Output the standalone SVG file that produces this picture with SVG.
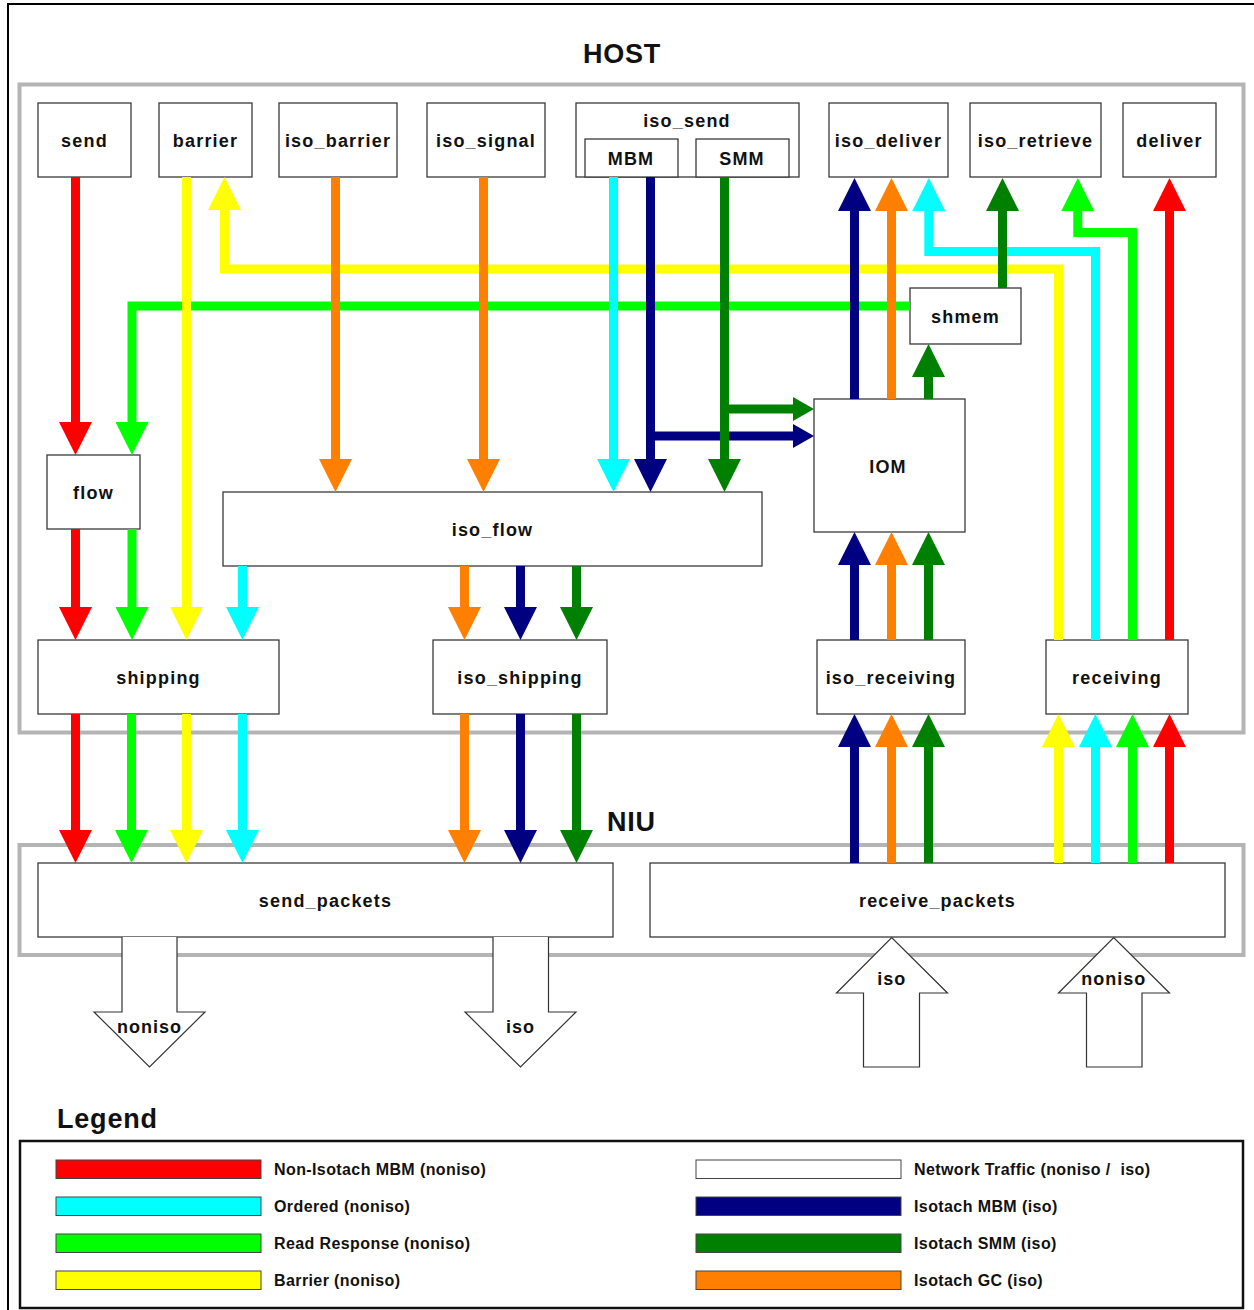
<svg xmlns="http://www.w3.org/2000/svg" width="1254" height="1310" viewBox="0 0 1254 1310">
<style>
  text{font-family:"Liberation Sans",Arial,Helvetica,sans-serif;font-weight:bold;fill:#111}
  .title{font-size:27px;letter-spacing:0.8px}
  .lbl{font-size:18px;letter-spacing:1.2px;text-anchor:middle}
  .net{font-size:18px;letter-spacing:1px;text-anchor:middle}
  .leg{font-size:16px;letter-spacing:0.4px}
  .box{fill:#fff;stroke:#3a3a3a;stroke-width:1.3}
  .frame{fill:none;stroke:#b4b4b4;stroke-width:4}
  .netarrow{fill:#fff;stroke:#333;stroke-width:1.2}
  .c{fill:none;stroke-width:9;stroke-linecap:butt;stroke-linejoin:miter}
  .red{stroke:#ff0000}.cyan{stroke:#00ffff}.green{stroke:#00ff00}.yellow{stroke:#ffff00}
  .orange{stroke:#ff8000}.navy{stroke:#000080}.dkgreen{stroke:#008000}
  .sw{stroke:#444;stroke-width:1}
</style>
<defs>
  <marker id="a-red" markerUnits="userSpaceOnUse" markerWidth="33" markerHeight="33" viewBox="0 0 33 33" refX="0" refY="16.5" orient="auto"><path d="M0,0 L33,16.5 L0,33 Z" fill="#ff0000"/></marker>
  <marker id="a-cyan" markerUnits="userSpaceOnUse" markerWidth="33" markerHeight="33" viewBox="0 0 33 33" refX="0" refY="16.5" orient="auto"><path d="M0,0 L33,16.5 L0,33 Z" fill="#00ffff"/></marker>
  <marker id="a-green" markerUnits="userSpaceOnUse" markerWidth="33" markerHeight="33" viewBox="0 0 33 33" refX="0" refY="16.5" orient="auto"><path d="M0,0 L33,16.5 L0,33 Z" fill="#00ff00"/></marker>
  <marker id="a-yellow" markerUnits="userSpaceOnUse" markerWidth="33" markerHeight="33" viewBox="0 0 33 33" refX="0" refY="16.5" orient="auto"><path d="M0,0 L33,16.5 L0,33 Z" fill="#ffff00"/></marker>
  <marker id="a-orange" markerUnits="userSpaceOnUse" markerWidth="33" markerHeight="33" viewBox="0 0 33 33" refX="0" refY="16.5" orient="auto"><path d="M0,0 L33,16.5 L0,33 Z" fill="#ff8000"/></marker>
  <marker id="a-navy" markerUnits="userSpaceOnUse" markerWidth="33" markerHeight="33" viewBox="0 0 33 33" refX="0" refY="16.5" orient="auto"><path d="M0,0 L33,16.5 L0,33 Z" fill="#000080"/></marker>
  <marker id="a-dkgreen" markerUnits="userSpaceOnUse" markerWidth="33" markerHeight="33" viewBox="0 0 33 33" refX="0" refY="16.5" orient="auto"><path d="M0,0 L33,16.5 L0,33 Z" fill="#008000"/></marker>
  <marker id="s-navy" markerUnits="userSpaceOnUse" markerWidth="21" markerHeight="24" viewBox="0 0 21 24" refX="0" refY="12" orient="auto"><path d="M0,0 L21,12 L0,24 Z" fill="#000080"/></marker>
  <marker id="s-dkgreen" markerUnits="userSpaceOnUse" markerWidth="21" markerHeight="24" viewBox="0 0 21 24" refX="0" refY="12" orient="auto"><path d="M0,0 L21,12 L0,24 Z" fill="#008000"/></marker>
</defs>

<rect x="0" y="0" width="1254" height="1310" fill="#fff"/>
<!-- outer border -->
<path d="M8,1312 L8,4 L1256,4" fill="none" stroke="#000" stroke-width="2"/>

<!-- frames -->
<rect class="frame" x="19.5" y="84.5" width="1224" height="648"/>
<rect class="frame" x="19.5" y="845" width="1224" height="110"/>
<text class="title" x="622" y="63" text-anchor="middle">HOST</text>
<text class="title" x="607" y="831">NIU</text>

<!-- nodes -->
<g id="send"><rect class="box" x="38" y="103" width="93" height="74"/><text class="lbl" x="84.5" y="146.5">send</text></g>
<g id="barrier"><rect class="box" x="159" y="103" width="93" height="74"/><text class="lbl" x="205.5" y="146.5">barrier</text></g>
<g id="iso_barrier"><rect class="box" x="279" y="103" width="118" height="74"/><text class="lbl" x="338" y="146.5">iso_barrier</text></g>
<g id="iso_signal"><rect class="box" x="427" y="103" width="118" height="74"/><text class="lbl" x="486" y="146.5">iso_signal</text></g>
<g id="iso_send"><rect class="box" x="576" y="103" width="223" height="74"/><text class="lbl" x="687" y="126.5">iso_send</text>
  <g id="MBM"><rect class="box" x="585" y="139" width="93" height="38"/><text class="lbl" x="631" y="165">MBM</text></g>
  <g id="SMM"><rect class="box" x="696" y="139" width="93" height="38"/><text class="lbl" x="742" y="165">SMM</text></g>
</g>
<g id="iso_deliver"><rect class="box" x="829" y="103" width="119" height="74"/><text class="lbl" x="888.5" y="146.5">iso_deliver</text></g>
<g id="iso_retrieve"><rect class="box" x="970" y="103" width="131" height="74"/><text class="lbl" x="1035.5" y="146.5">iso_retrieve</text></g>
<g id="deliver"><rect class="box" x="1123" y="103" width="93" height="74"/><text class="lbl" x="1169.5" y="146.5">deliver</text></g>
<g id="shmem"><rect class="box" x="910" y="288" width="111" height="56"/><text class="lbl" x="965.5" y="322.5">shmem</text></g>
<g id="IOM"><rect class="box" x="814" y="399" width="151" height="133"/><text class="lbl" x="888" y="472.5">IOM</text></g>
<g id="flow"><rect class="box" x="47" y="455" width="93" height="74"/><text class="lbl" x="93.5" y="498.5">flow</text></g>
<g id="iso_flow"><rect class="box" x="223" y="492" width="539" height="74"/><text class="lbl" x="492.5" y="535.5">iso_flow</text></g>
<g id="shipping"><rect class="box" x="38" y="640" width="241" height="74"/><text class="lbl" x="158.5" y="683.5">shipping</text></g>
<g id="iso_shipping"><rect class="box" x="433" y="640" width="174" height="74"/><text class="lbl" x="520" y="683.5">iso_shipping</text></g>
<g id="iso_receiving"><rect class="box" x="817" y="640" width="148" height="74"/><text class="lbl" x="891" y="683.5">iso_receiving</text></g>
<g id="receiving"><rect class="box" x="1046" y="640" width="142" height="74"/><text class="lbl" x="1117" y="683.5">receiving</text></g>
<g id="send_packets"><rect class="box" x="38" y="863" width="575" height="74"/><text class="lbl" x="325.5" y="906.5">send_packets</text></g>
<g id="receive_packets"><rect class="box" x="650" y="863" width="575" height="74"/><text class="lbl" x="937.5" y="906.5">receive_packets</text></g>

<!-- network traffic arrows -->
<g id="net-out-noniso"><path class="netarrow" d="M122,937 L122,1012 L94,1012 L149.5,1067 L205,1012 L177,1012 L177,937"/><text class="net" x="149.5" y="1032.5">noniso</text></g>
<g id="net-out-iso"><path class="netarrow" d="M493,937 L493,1012 L465,1012 L520.5,1067 L576,1012 L548.5,1012 L548.5,937"/><text class="net" x="520.5" y="1032.5">iso</text></g>
<g id="net-in-iso"><path class="netarrow" d="M863.5,1067 L863.5,993 L836.5,993 L891.7,937.5 L947.5,993 L919.5,993 L919.5,1067 Z"/><text class="net" x="891.7" y="985">iso</text></g>
<g id="net-in-noniso"><path class="netarrow" d="M1086.5,1067 L1086.5,993 L1058.5,993 L1113.7,937.5 L1169.5,993 L1142,993 L1142,1067 Z"/><text class="net" x="1113.7" y="985">noniso</text></g>

<!-- connectors -->
<g id="connectors">
  <polyline class="c green" points="910,306 132,306 132,422" marker-end="url(#a-green)"/>
  <polyline class="c yellow" points="1058.5,640 1058.5,269 224.5,269 224.5,210" marker-end="url(#a-yellow)"/>
  <polyline class="c cyan" points="1095.5,640 1095.5,251.5 928.8,251.5 928.8,211" marker-end="url(#a-cyan)"/>
  <polyline class="c green" points="1132.5,640 1132.5,232.5 1077.8,232.5 1077.8,211" marker-end="url(#a-green)"/>

  <line class="c red" x1="75.5" y1="177" x2="75.5" y2="422" marker-end="url(#a-red)"/>
  <line class="c yellow" x1="186.5" y1="177" x2="186.5" y2="607" marker-end="url(#a-yellow)"/>
  <line class="c orange" x1="335.5" y1="177" x2="335.5" y2="459" marker-end="url(#a-orange)"/>
  <line class="c orange" x1="483.5" y1="177" x2="483.5" y2="459" marker-end="url(#a-orange)"/>
  <line class="c cyan" x1="613.5" y1="177" x2="613.5" y2="459" marker-end="url(#a-cyan)"/>
  <line class="c navy" x1="650.5" y1="436" x2="793" y2="436" marker-end="url(#s-navy)"/>
  <line class="c navy" x1="650.5" y1="177" x2="650.5" y2="459" marker-end="url(#a-navy)"/>
  <line class="c dkgreen" x1="724.5" y1="409" x2="793" y2="409" marker-end="url(#s-dkgreen)"/>
  <line class="c dkgreen" x1="724.5" y1="177" x2="724.5" y2="459" marker-end="url(#a-dkgreen)"/>

  <line class="c navy" x1="854.5" y1="399" x2="854.5" y2="211" marker-end="url(#a-navy)"/>
  <line class="c orange" x1="891.5" y1="399" x2="891.5" y2="211" marker-end="url(#a-orange)"/>
  <line class="c dkgreen" x1="1002.5" y1="288" x2="1002.5" y2="211" marker-end="url(#a-dkgreen)"/>
  <line class="c red" x1="1169.5" y1="640" x2="1169.5" y2="211" marker-end="url(#a-red)"/>
  <line class="c dkgreen" x1="928.5" y1="399" x2="928.5" y2="377" marker-end="url(#a-dkgreen)"/>

  <line class="c red" x1="75.5" y1="529" x2="75.5" y2="607" marker-end="url(#a-red)"/>
  <line class="c green" x1="132" y1="529" x2="132" y2="607" marker-end="url(#a-green)"/>
  <line class="c cyan" x1="242.5" y1="566" x2="242.5" y2="607" marker-end="url(#a-cyan)"/>
  <line class="c orange" x1="464.5" y1="566" x2="464.5" y2="607" marker-end="url(#a-orange)"/>
  <line class="c navy" x1="520.5" y1="566" x2="520.5" y2="607" marker-end="url(#a-navy)"/>
  <line class="c dkgreen" x1="576.5" y1="566" x2="576.5" y2="607" marker-end="url(#a-dkgreen)"/>

  <line class="c navy" x1="854.5" y1="640" x2="854.5" y2="565" marker-end="url(#a-navy)"/>
  <line class="c orange" x1="891.5" y1="640" x2="891.5" y2="565" marker-end="url(#a-orange)"/>
  <line class="c dkgreen" x1="928.5" y1="640" x2="928.5" y2="565" marker-end="url(#a-dkgreen)"/>

  <line class="c red" x1="75.5" y1="714" x2="75.5" y2="830" marker-end="url(#a-red)"/>
  <line class="c green" x1="131.5" y1="714" x2="131.5" y2="830" marker-end="url(#a-green)"/>
  <line class="c yellow" x1="186.5" y1="714" x2="186.5" y2="830" marker-end="url(#a-yellow)"/>
  <line class="c cyan" x1="242.5" y1="714" x2="242.5" y2="830" marker-end="url(#a-cyan)"/>
  <line class="c orange" x1="464.5" y1="714" x2="464.5" y2="830" marker-end="url(#a-orange)"/>
  <line class="c navy" x1="520.5" y1="714" x2="520.5" y2="830" marker-end="url(#a-navy)"/>
  <line class="c dkgreen" x1="576.5" y1="714" x2="576.5" y2="830" marker-end="url(#a-dkgreen)"/>

  <line class="c navy" x1="854.5" y1="863" x2="854.5" y2="747" marker-end="url(#a-navy)"/>
  <line class="c orange" x1="891.5" y1="863" x2="891.5" y2="747" marker-end="url(#a-orange)"/>
  <line class="c dkgreen" x1="928.5" y1="863" x2="928.5" y2="747" marker-end="url(#a-dkgreen)"/>
  <line class="c yellow" x1="1058.5" y1="863" x2="1058.5" y2="747" marker-end="url(#a-yellow)"/>
  <line class="c cyan" x1="1095.5" y1="863" x2="1095.5" y2="747" marker-end="url(#a-cyan)"/>
  <line class="c green" x1="1132.5" y1="863" x2="1132.5" y2="747" marker-end="url(#a-green)"/>
  <line class="c red" x1="1169.5" y1="863" x2="1169.5" y2="747" marker-end="url(#a-red)"/>
</g>

<!-- legend -->
<g id="legend">
  <text class="title" x="57" y="1128">Legend</text>
  <rect x="20" y="1141" width="1223" height="167" fill="none" stroke="#111" stroke-width="2.5"/>
  <rect class="sw" x="56" y="1160" width="205" height="18.5" fill="#ff0000"/>
  <rect class="sw" x="56" y="1197" width="205" height="18.5" fill="#00ffff"/>
  <rect class="sw" x="56" y="1234" width="205" height="18.5" fill="#00ff00"/>
  <rect class="sw" x="56" y="1271" width="205" height="18.5" fill="#ffff00"/>
  <text class="leg" x="274" y="1175">Non-Isotach MBM (noniso)</text>
  <text class="leg" x="274" y="1212">Ordered (noniso)</text>
  <text class="leg" x="274" y="1249">Read Response (noniso)</text>
  <text class="leg" x="274" y="1286">Barrier (noniso)</text>
  <rect class="sw" x="696" y="1160" width="205" height="18.5" fill="#ffffff"/>
  <rect class="sw" x="696" y="1197" width="205" height="18.5" fill="#000080"/>
  <rect class="sw" x="696" y="1234" width="205" height="18.5" fill="#008000"/>
  <rect class="sw" x="696" y="1271" width="205" height="18.5" fill="#ff8000"/>
  <text class="leg" x="914" y="1175" xml:space="preserve" style="white-space:pre">Network Traffic (noniso /  iso)</text>
  <text class="leg" x="914" y="1212">Isotach MBM (iso)</text>
  <text class="leg" x="914" y="1249">Isotach SMM (iso)</text>
  <text class="leg" x="914" y="1286">Isotach GC (iso)</text>
</g>
</svg>
